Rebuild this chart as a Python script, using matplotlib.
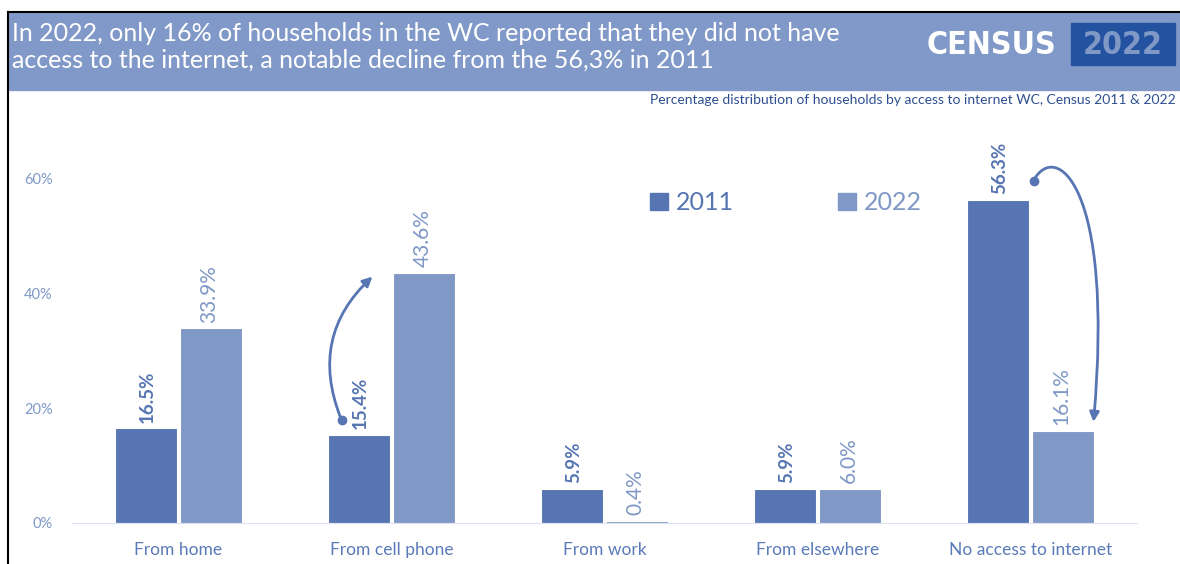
import matplotlib.pyplot as plt
from matplotlib.patches import Rectangle, FancyArrowPatch
from matplotlib.lines import Line2D
from matplotlib.path import Path
import numpy as np

categories = ["From home", "From cell phone", "From work", "From elsewhere", "No access to internet"]
values_2011 = [16.5, 15.4, 5.9, 5.9, 56.3]
values_2022 = [33.9, 43.6, 0.4, 6.0, 16.1]
yticks = [0, 20, 40, 60]

c2011 = "#5675b2"
c2022 = "#7f98c6"
header_col = "#8199c8"
text_col = "#7f98c6"

plt.rcParams['font.family'] = ['Lato', 'DejaVu Sans']

fig = plt.figure(figsize=(11.8, 5.64), dpi=100)
ax = fig.add_axes([72 / 1180, 41 / 564, 1065 / 1180, 373 / 564])

x = np.arange(len(categories))
w = 0.29
ax.bar(x - w / 2 - 0.007, values_2011, w, color=c2011, edgecolor="white", linewidth=0.8)
ax.bar(x + w / 2 + 0.007, values_2022, w, color=c2022, edgecolor="white", linewidth=0.8)

for xi, v in zip(x, values_2011):
    ax.text(xi - w / 2, v + 1.0, f"{v:.1f}%", rotation=90, ha="center", va="bottom",
            fontsize=13.5, fontweight="bold", color=c2011)
for xi, v in zip(x, values_2022):
    ax.text(xi + w / 2, v + 1.0, f"{v:.1f}%", rotation=90, ha="center", va="bottom",
            fontsize=15, color=text_col)

ax.set_xlim(-0.5, 4.5)
ax.set_ylim(0, 65)
ax.set_yticks(yticks)
ax.set_yticklabels([f"{t}%" for t in yticks], color=text_col, fontsize=10.5)
ax.set_xticks(x)
ax.set_xticklabels(categories, color="#5a7ab8", fontsize=12.5)
ax.tick_params(axis="y", length=0, pad=14)
ax.tick_params(axis="x", length=0, pad=14)
for s in ["top", "right", "left"]:
    ax.spines[s].set_visible(False)
ax.spines["bottom"].set_color("#dbe2f0")

# legend
handles = [Rectangle((0, 0), 1, 1, color=c2011), Rectangle((0, 0), 1, 1, color=c2022)]
leg = ax.legend(handles, ["2011", "2022"], ncol=2, frameon=False, loc="upper left",
                bbox_to_anchor=(0.522, 0.95), fontsize=18, labelcolor=c2011,
                handlelength=0.7, handleheight=0.7, columnspacing=4.2, handletextpad=0.3)
leg.get_texts()[1].set_color(text_col)


def px(p):
    # pixel position of the reference -> data coords
    return ((p[0] - 178) / 213, (523 - p[1]) / 5.733)


# curved arrow: cell phone
ax.plot(*px((341, 420)), "o", color=c2011, ms=6)
ax.annotate("", xy=px((374, 275)), xytext=px((341, 420)),
            arrowprops=dict(arrowstyle="-|>", color=c2011, lw=2,
                            connectionstyle="arc3,rad=-0.35", mutation_scale=14))

# curved arrow: no access
ax.plot(*px((1033, 181)), "o", color=c2011, ms=6)
pts = [px(p) for p in [(1033, 181), (1055, 140), (1114, 185), (1093, 422)]]
path = Path(pts, [Path.MOVETO, Path.CURVE4, Path.CURVE4, Path.CURVE4])
ax.add_patch(FancyArrowPatch(path=path, arrowstyle="-|>", color=c2011, lw=2,
                             mutation_scale=14))

# header band
fig.patches.append(Rectangle((9 / 1180, 1 - 90 / 564), 1, 78 / 564, transform=fig.transFigure,
                             color=header_col, zorder=0))
fig.lines.append(Line2D([8 / 1180, 8 / 1180], [0, 1 - 12 / 564], transform=fig.transFigure,
                        color="black", lw=1.5))
fig.lines.append(Line2D([8 / 1180, 1], [1 - 12 / 564, 1 - 12 / 564], transform=fig.transFigure,
                        color="black", lw=1.5))

fig.text(12 / 1180, 1 - 47 / 564,
         "In 2022, only 16% of households in the WC reported that they did not have\n"
         "access to the internet, a notable decline from the 56,3% in 2011",
         color="white", fontsize=18, va="center", ha="left", linespacing=1.2)

fig.text(1056 / 1180, 1 - 45 / 564, "CENSUS", color="white", fontsize=23, fontweight="heavy",
         family="DejaVu Sans", stretch="condensed", ha="right", va="center")
fig.patches.append(Rectangle((1071 / 1180, 1 - 65 / 564), 104 / 1180, 42 / 564,
                             transform=fig.transFigure, color="#2352a0", zorder=1))
fig.text(1123 / 1180, 1 - 45 / 564, "2022", color=c2022, fontsize=23, fontweight="heavy",
         family="DejaVu Sans", stretch="condensed", ha="center", va="center")

fig.text(1176 / 1180, 1 - 100 / 564,
         "Percentage distribution of households by access to internet WC, Census 2011 & 2022",
         color="#2d4f91", fontsize=10, ha="right", va="center")

fig.savefig("out.png", dpi=100, facecolor="white")
